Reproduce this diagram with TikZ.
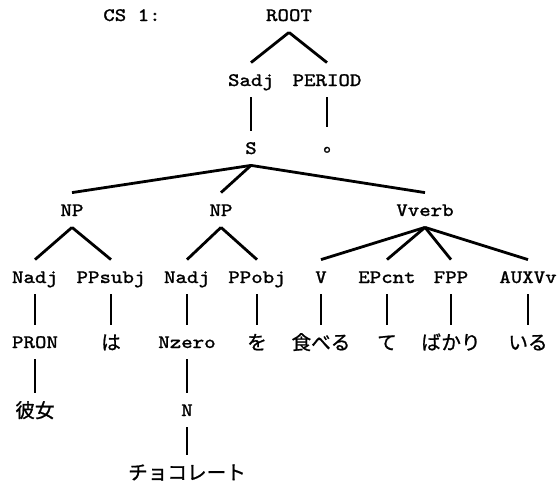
\documentclass[tikz,border=0pt]{standalone}
\usepackage{fontspec}
\newfontfamily\courfont[FakeStretch=1.15, FakeBold=1]{Latin Modern Mono}
\newfontfamily\jpfont[FakeBold=1]{Noto Sans CJK JP}

\begin{document}
\begin{tikzpicture}[x=0.5pt, y=-0.5pt, line width=1.4pt,
every node/.style={inner sep=0pt, minimum height=16pt, text height=0.6em,
  text depth=0pt, font=\fontsize{9.5}{11}\selectfont\courfont},
jp/.style={text height=0.8em, text depth=0.04em,
  font=\fontsize{9.8}{11}\selectfont\jpfont}]
\useasboundingbox (0,0) rectangle (558,482);
% heading and the two top rows
\node (cs) at (132,15) {CS 1:};
\node (root) at (289,15) {ROOT};
\node (sadj) at (251,80) {Sadj};
\node (period) at (327,80) {PERIOD};
\node (s) at (251,148) {S};
\node[jp] (dot) at (333,144) {。};
% phrases
\node (npa) at (72,210) {NP};
\node (npb) at (221,210) {NP};
\node (vverb) at (425,210) {Vverb};
% categories
\node (nadja) at (35,277) {Nadj};
\node (ppsubj) at (111,277) {PPsubj};
\node (nadjb) at (187,277) {Nadj};
\node (ppobj) at (257,277) {PPobj};
\node (v) at (321,277) {V};
\node (epcnt) at (387,277) {EPcnt};
\node (fpp) at (451,277) {FPP};
\node (auxvv) at (528,277) {AUXVv};
% words
\node (pron) at (35,342) {PRON};
\node[jp] (ha) at (111,342) {は};
\node (nzero) at (187,342) {Nzero};
\node[jp] (wo) at (257,342) {を};
\node[jp] (taberu) at (321,342) {食べる};
\node[jp] (te) at (387,342) {て};
\node[jp] (bakari) at (451,342) {ばかり};
\node[jp] (iru) at (528,342) {いる};
\node[jp] (kanojo) at (35,410) {彼女};
\node (n) at (187,410) {N};
\node[jp] (choco) at (187,472) {チョコレート};
% branches
\foreach \a/\b in {root/sadj, root/period, sadj/s, s/npa, s/npb, s/vverb,
  npa/nadja, npa/ppsubj, npb/nadjb, npb/ppobj,
  vverb/v, vverb/epcnt, vverb/fpp, vverb/auxvv,
  nadja/pron, ppsubj/ha, nadjb/nzero, ppobj/wo,
  v/taberu, epcnt/te, fpp/bakari, auxvv/iru,
  pron/kanojo, nzero/n, n/choco}
  \draw (\a.south) -- (\b.north);
\draw (period.south) -- (period.south |- dot.north);
\end{tikzpicture}
\end{document}
